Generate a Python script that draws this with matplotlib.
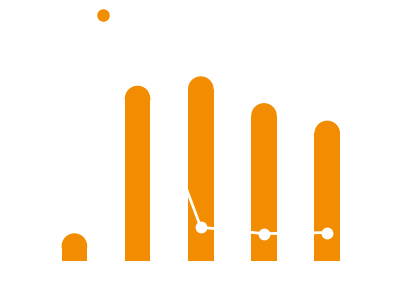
import numpy as np
import matplotlib
matplotlib.use("Agg")
import matplotlib.pyplot as plt
from matplotlib.patches import Ellipse
from matplotlib.lines import Line2D

# data
categories = ["A", "B", "C", "D", "E"]
bar_values = [15.0, 94.9, 100.0, 85.5, 76.0]
growth_pct = [np.nan, 533.0, 5.4, -14.5, -11.2]

orange = "#F28C00"
bar_w = 0.405

fig = plt.figure(figsize=(4, 2.81), dpi=100)
fig.patch.set_facecolor("white")
ax = fig.add_axes([0.107, 0.0712, 0.79, 0.8577])
ax.set_xlim(-0.5, 4.5)
ax.set_ylim(0, 130.5)

# rounded top = half ellipse whose size matches the bar width on screen
px_per_unit_x = 0.79 * 400 / 5.0
px_per_unit_y = 0.8577 * 281 / 130.5
r_px = bar_w * px_per_unit_x / 2
ry = r_px / px_per_unit_y

x = np.arange(len(categories))
ax.bar(x, [v - ry for v in bar_values], width=bar_w, color=orange, linewidth=0)
for xi, v in zip(x, bar_values):
    ax.add_patch(Ellipse((xi, v - ry), bar_w, 2 * ry, color=orange, linewidth=0))

ax2 = ax.twinx()
ax2.set_ylim(-100, 653)
ax2.plot(x, growth_pct, color="white", lw=2, marker="o", markersize=7.5,
         markerfacecolor="white", markeredgecolor="white", zorder=5)

for a in (ax, ax2):
    a.set_xticks([])
    a.set_yticks([])
    for s in a.spines.values():
        s.set_visible(False)
ax.set_facecolor("white")

# legend: orange dot visible, labels in white
handles = [Line2D([], [], ls="none", marker="o", markersize=8, color=orange),
           Line2D([], [], color="white", marker="o", markersize=6)]
leg = fig.legend(handles, ["Value", "Growth"], loc="center left",
                 bbox_to_anchor=(0.227, 0.943), ncol=2, frameon=False,
                 borderpad=0, handlelength=1, fontsize=9)
for t in leg.get_texts():
    t.set_color("white")

fig.savefig("out.png", dpi=100, facecolor="white")
